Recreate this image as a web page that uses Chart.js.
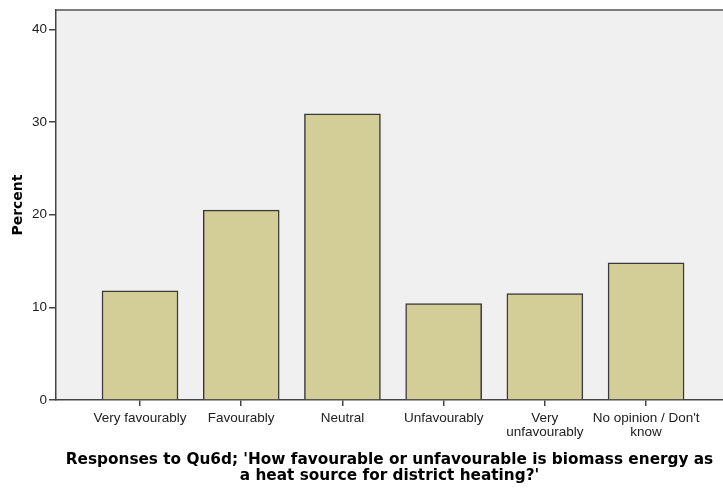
<!DOCTYPE html>
<html>
<head>
<meta charset="utf-8">
<script src="https://cdn.jsdelivr.net/npm/chart.js@4"></script>
<style>
  html, body { margin: 0; padding: 0; background: #fff; overflow: hidden; }
  #wrap { width: 723px; height: 488px; }
</style>
</head>
<body>
<div id="wrap"><canvas id="bar"></canvas></div>
<script>
const categories = ['Very favourably', 'Favourably', 'Neutral', 'Unfavourably', 'Very unfavourably', 'No opinion / Don\'t know'];
const tickLabels = [['Very favourably'], ['Favourably'], ['Neutral'], ['Unfavourably'], ['Very', 'unfavourably'], ['No opinion / Don\'t', 'know']];
const percent = [11.8, 20.5, 30.9, 10.4, 11.5, 14.8];
const yTicks = [0, 10, 20, 30, 40];

// grey plot background + top frame line
const plotFrame = {
    id: 'plotFrame',
    beforeDraw(chart) {
        const { ctx, chartArea: a } = chart;
        ctx.save();
        ctx.fillStyle = '#f0f0f0';
        ctx.fillRect(a.left, a.top, a.right - a.left, a.bottom - a.top);
        ctx.restore();
    },
    afterDraw(chart) {
        const { ctx, chartArea: a } = chart;
        ctx.save();
        ctx.strokeStyle = '#555';
        ctx.lineWidth = 1.5;
        ctx.beginPath();
        ctx.moveTo(a.left, a.top);
        ctx.lineTo(a.right, a.top);
        ctx.stroke();
        ctx.restore();
    }
};

window.onload = () => {
    new Chart(document.getElementById('bar'), {
        type: 'bar',
        data: {
            datasets: [{
                label: 'Percent',
                data: percent.map((v, i) => ({ x: i, y: v })),
                backgroundColor: '#d3ce98',
                borderColor: '#3a3a3a',
                borderWidth: 1.5,
                barThickness: 76
            }]
        },
        plugins: [plotFrame],
        options: {
            responsive: true,
            maintainAspectRatio: false,
            animation: false,
            layout: { padding: { top: 9, right: 0, left: 0, bottom: 0 } },
            plugins: { legend: { display: false }, tooltip: { enabled: false } },
            scales: {
                x: {
                    type: 'linear',
                    offset: false,
                    min: -0.83,
                    max: 5.76,
                    afterBuildTicks: s => { s.ticks = categories.map((c, i) => ({ value: i })); },
                    afterFit: s => { s.height = 88; },
                    ticks: {
                        callback: v => tickLabels[v],
                        color: '#222',
                        font: { family: 'Liberation Sans, Arial', size: 13.5, lineHeight: 1.05 },
                        padding: 5,
                        maxRotation: 0,
                        autoSkip: false
                    },
                    grid: { offset: false, drawOnChartArea: false, drawTicks: true, tickLength: 6, color: '#444', lineWidth: 1.5 },
                    border: { display: true, color: '#444', width: 1.5 },
                    title: {
                        display: true,
                        text: ['Responses to Qu6d; \'How favourable or unfavourable is biomass energy as', 'a heat source for district heating?\''],
                        color: '#000',
                        font: { family: 'DejaVu Sans', size: 15.3, weight: 'bold', lineHeight: 1.05 },
                        padding: { top: 6 }
                    }
                },
                y: {
                    min: 0,
                    max: 42.1,
                    afterBuildTicks: s => { s.ticks = yTicks.map(v => ({ value: v })); },
                    afterFit: s => { s.width = 56; },
                    ticks: {
                        color: '#222',
                        font: { family: 'Liberation Sans, Arial', size: 13.5 },
                        padding: 2
                    },
                    grid: { drawOnChartArea: false, drawTicks: true, tickLength: 7, color: '#444', lineWidth: 1.5 },
                    border: { display: true, color: '#444', width: 1.5 },
                    title: {
                        display: true,
                        text: 'Percent',
                        color: '#000',
                        font: { family: 'DejaVu Sans', size: 14, weight: 'bold' },
                        padding: { top: 10, bottom: 2 }
                    }
                }
            }
        }
    });
};
</script>
</body>
</html>
